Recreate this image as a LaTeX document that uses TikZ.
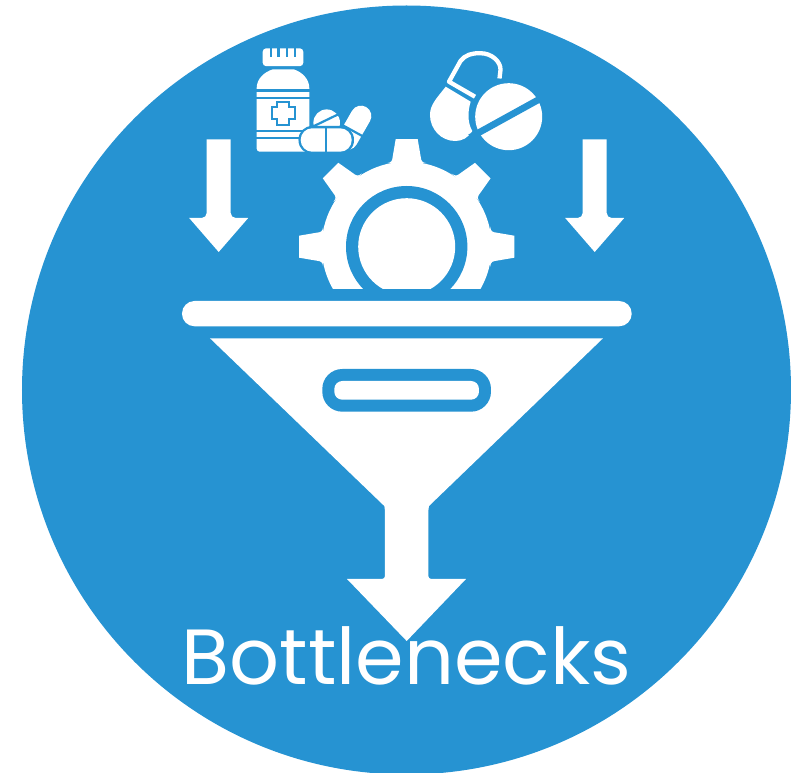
\documentclass[tikz,border=0pt]{standalone}
\usepackage{fontspec}
\setmainfont{Poppins}
\definecolor{discblue}{HTML}{2693D2}
\tikzset{
  shape white/.style={fill=white, draw=none},
  cut line/.style={draw=discblue, line width=0.022cm},
  side arrow/.style={fill=white, rounded corners=0.05cm},
  pill line/.style={draw=white, line width=0.043cm, line join=round},
}
\begin{document}
\begin{tikzpicture}[x=0.01cm,y=-0.01cm]
  \useasboundingbox (0,0) rectangle (808,773);
  % Disc
  \fill[white] (0,0) rectangle (808,773);
  \fill[discblue] (406.5,390) circle[radius=384.5];

  % Side arrows
  \foreach \ax in {218.7,594.7} {
    \fill[side arrow] (\ax-12,139.3) [sharp corners] -- (\ax+12,139.3) [rounded corners=0.05cm] -- (\ax+12,218)
      [sharp corners] -- (\ax+29.5,218) -- (\ax,252) -- (\ax-29.5,218) [rounded corners=0.05cm] -- (\ax-12,218) [sharp corners] -- cycle;
  }

  % Gear
  \begin{scope}
    \clip (280,120) rectangle (530,289);
    \fill[shape white] (406.7,246.7) circle[radius=85];
    \foreach \a in {0,45,...,315} {
      \fill[shape white, shift={(406.7,246.7)}, rotate=\a]
        (-20,-83.5) .. controls (-15,-84) and (-14.5,-86) .. (-14,-90) -- (-11,-107.6) -- (11,-107.6)
        -- (14,-90) .. controls (14.5,-86) and (15,-84) .. (20,-83.5) -- cycle;
    }
    \fill[discblue] (406.7,246.7) circle[radius=60.7];
    \fill[shape white] (406.7,246.7) circle[radius=48.5];
  \end{scope}

  % Funnel
  \fill[shape white, rounded corners=0.125cm] (182,301) rectangle (631.7,326.3);
  \fill[shape white] (210,338.3) -- (603,338.3) -- (429,506) [rounded corners=0.03cm] -- (428.3,510)
    -- (428.3,579) [sharp corners] -- (466,579) -- (406.7,641) -- (347,579) [rounded corners=0.03cm] -- (385,579)
    -- (385,510) [sharp corners] -- (384.3,506) -- cycle;
  \fill[discblue, rounded corners=0.2cm] (322.3,369) rectangle (491,411.7);
  \fill[shape white, rounded corners=0.08cm] (334.3,381) rectangle (479,399.7);

  % Bottle
  \fill[shape white, rounded corners=0.035cm] (262.7,48.3) rectangle (303.3,66.2);
  \foreach \nx in {270.7,278.5,286.7,295} {
    \draw[cut line] (\nx,47) -- (\nx,57.3);
  }
  \fill[shape white] (273,69.3) -- (293.7,69.3) .. controls (302,72) and (309.3,79) .. (309.3,88)
    [rounded corners=0.03cm] -- (309.3,151.7) -- (256.7,151.7) [sharp corners] -- (256.7,88) .. controls (256.7,79) and (264,72) .. (273,69.3) -- cycle;
  \foreach \by in {90.5,97.9,130.7,138.2} {
    \draw[cut line] (255,\by) -- (311,\by);
  }
  \filldraw[fill=white, cut line] (277.3,101.8) -- (289.3,101.8) -- (289.3,107.3)
    -- (294.8,107.3) -- (294.8,119.3) -- (289.3,119.3) -- (289.3,124.8) -- (277.3,124.8) -- (277.3,119.3)
    -- (271.8,119.3) -- (271.8,107.3) -- (277.3,107.3) -- cycle;

  % Small pills
  \draw[white, line width=0.207cm, line cap=round] (361,116) -- (347.5,139.5);
  \draw[cut line] (339.5,123.5) -- (365,137.5);
  \fill[shape white] (326.7,122.7) circle[radius=13.3];
  \draw[cut line] (311,127.5) -- (341,113);
  \fill[discblue, rounded corners=0.135cm] (298.5,126) rectangle (354,154);
  \fill[shape white, rounded corners=0.115cm] (300.7,128.3) rectangle (351.7,151.7);
  \draw[cut line] (326,128.3) -- (326,151.7);

  % Large pills
  \draw[pill line] (475,96.7) -- (449,81.7) -- (460.5,61) .. controls (465,55) and (472,53) .. (480,53.2)
    .. controls (492,53) and (501,62) .. (500.5,70) -- (499.5,78.5);
  \fill[shape white] (445.7,86.7) -- (470.7,101.7) .. controls (468,110) and (467,122) .. (472.3,131)
    .. controls (468,138) and (462,141) .. (455.2,141) .. controls (441,141) and (430,129) .. (430,115)
    .. controls (430,105) and (436,99) .. (445.7,86.7) -- cycle;
  \fill[shape white] (508.7,116.7) circle[radius=33.5];
  \draw[discblue, line width=0.067cm] (470,137.5) -- (547,95);

  % Title
  \node[anchor=base, text=white, font=\fontsize{22.25}{26}\selectfont] (title) at (406.5,685) {Bottlenecks};
\end{tikzpicture}
\end{document}
